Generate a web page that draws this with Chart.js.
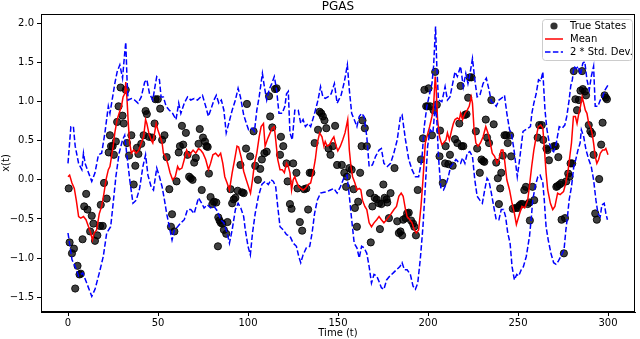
<!DOCTYPE html>
<html>
<head>
<meta charset="utf-8">
<script src="https://cdn.jsdelivr.net/npm/chart.js@4/dist/chart.umd.min.js"></script>
<style>
  html, body { margin: 0; padding: 0; background: #fff; }
  #c { display: block; }
</style>
</head>
<body>
<canvas id="c" width="640" height="339"></canvas>
<script>
// tick labels
const xTicks = [0, 50, 100, 150, 200, 250, 300];
const yTicks = [-1.5, -1.0, -0.5, 0.0, 0.5, 1.0, 1.5, 2.0];

// true states
const trueT = [0.4,0.9,2.2,3.3,4,5.3,6.4,7.1,8.1,9,10.1,10.8,12.3,13.2,14.1,15,16.3,17.8,18.2,19.3,20,21.5,22.6,23.3,23.9,24.8,25.5,26.6,27.3,28.1,29.2,30.3,31,32.1,32.8,33.9,35.2,36.5,37.4,38.3,39.1,40.7,42,43.1,43.8,44.9,46.8,48.1,48.6,49.9,51.2,52.3,53.6,54.8,56.3,57.2,57.8,59.1,60.3,61.5,62.2,63.3,64,65.5,66.4,67.3,68.2,69.2,70.1,71,72.5,73.2,74.3,75,76.1,76.9,77.6,78.3,79.2,80.2,81.1,82.4,83.3,83.5,84.2,84.9,85.7,86.6,87.9,88.6,90.3,91.2,92.1,93,94.3,95.8,96.7,97.6,98.9,99.4,101.2,103.1,104,105.5,106.8,107.7,109.1,110.4,111.7,112.3,113.5,115,115.9,117.8,118.3,119.6,121.4,122,123.3,124.2,125.1,126.9,127.5,128.8,130.1,131.2,132.4,133.4,134.3,135.2,137,138.9,139.8,140.7,141.6,142.5,143.5,144.7,145.8,147.1,148.4,149.5,152.1,153.5,154.5,155,156.3,157.6,158.7,159.4,160.5,161.2,162.3,163.1,163.6,164.9,166,167.8,168.2,169.1,170.4,171.5,172.8,173.3,174.1,175.2,175.9,177,177.4,178.3,179.2,181.4,182.9,183.8,184.7,185.6,186.2,187.5,188.4,189.3,190.6,191.7,192.4,193.3,194.3,196.1,197.2,198,199,199.8,200.3,201.2,202.2,203.1,204,204.9,206.4,206.7,208.2,209.5,209.8,211.3,212.2,213.7,215,216.3,217.4,218.1,218.7,219.6,220.5,221.4,222.3,223.2,224.2,226.6,227.3,228.8,229.7,230.6,231.3,232.1,232.8,233.9,235.2,236.5,237.9,238.8,239.4,240.1,240.7,241.6,242.5,243.4,244.3,245.6,246.2,247.1,248.6,249.9,250.8,251.7,252.6,253.5,254.4,255.4,256.3,256.6,258.1,259,260.9,261.8,263.2,264,265.8,266.4,267.2,270,270.9,271.3,271.9,272.4,273.1,274.2,274.2,275.5,276.1,276.8,277.9,278.6,279.2,280.1,281,281.9,282.8,283.8,284.7,285.6,286,287.1,287.8,289.3,290.2,291.1,292,292.9,293.8,295.1,296.2,297,298.1,298.8,299.4];
const trueX = [-0.11,-0.8,-0.94,-0.88,-1.39,-1.1,-1.21,-1.2,-0.76,-0.34,-0.18,-0.38,-0.66,-0.46,-0.56,-0.78,-0.71,-0.59,-0.32,-0.59,-0.04,-0.24,0.35,0.57,0.43,0.43,0.32,0.49,0.74,0.94,1.18,0.82,0.72,1.15,0.47,0.31,0.57,-0.06,0.18,0.41,0.33,0.46,0.57,0.88,0.84,0.55,0.54,0.72,1.03,1.03,0.91,0.51,0.57,0.29,-0.12,-0.6,-0.44,-0.66,-0.02,0.35,0.43,0.69,0.45,0.6,0.32,0.04,0.02,0,0.22,0.28,0.46,0.65,-0.13,0.54,0.49,0.43,0.42,0.08,-0.22,-0.31,-0.28,-0.29,-0.85,-0.48,-0.52,-0.55,-0.56,-0.64,-0.69,-0.54,-0.12,-0.3,-0.25,-0.23,-0.14,0.19,-0.16,-0.17,0.4,0.97,0.3,0.62,0.18,0,0.14,0.26,0.34,0.36,1.07,0.81,0.67,1.16,1.17,0.32,0.55,0.43,0.21,-0.02,-0.31,-0.37,0.21,0.09,-0.11,-0.54,-0.65,-0.12,-0.11,-0.38,0.09,0.09,0.47,0.64,0.87,0.85,0.81,0.76,0.66,0.4,0.32,0.43,0.69,0.19,0.19,0.09,-0.09,0.04,0.15,0.13,-0.12,-0.36,-0.6,-0.28,0.09,0.43,0.76,0.66,0.43,-0.17,-0.8,-0.34,-0.23,-0.25,-0.3,-0.63,-0.31,-0.06,-0.23,-0.25,-0.29,-0.49,-0.17,0.15,-0.53,-0.68,-0.66,-0.71,-0.51,-0.49,-0.43,-0.42,-0.52,-0.56,-0.6,-0.71,-0.13,0.26,0.53,1.15,0.94,0.94,1.17,0.94,0.57,0.89,1.38,0.96,0.3,0.63,-0.04,0.21,0.43,0.2,0.32,0.18,0.52,0.47,0.72,1.2,0.43,0.43,0.83,0.84,1.05,1.31,1.31,0.62,0.4,0.09,0.26,0.24,0.23,0.77,0.54,0.47,1.02,0.71,0.22,0.02,-0.31,-0.11,0.09,0.31,0.57,0.57,0.47,0.57,0.3,-0.37,-0.36,-0.36,-0.33,-0.31,-0.31,-0.13,-0.09,-0.31,-0.29,-0.52,-0.09,-0.26,0.54,0.7,0.7,0.51,0.4,0.38,0.25,0.43,0.43,-0.09,-0.08,0.29,-0.06,-0.04,-0.51,-0.94,-0.49,-0.02,0.08,0.04,0.21,0.21,1.39,1.03,0.89,1.02,1.14,1.39,1.16,1.13,1.08,0.7,0.62,0.59,0.32,-0.43,-0.51,0.01,0.45,0.73,1.08,1.05,1.03];

// posterior mean
const meanT = [0,0.9,2.2,3.5,4.6,5.9,7.1,8.6,10,11.4,12.6,13.6,14.5,15.9,17.4,18.7,20,21.1,22.4,23.3,24.2,25.1,26,27.3,28.4,29.7,30.6,31.5,32.1,32.8,33.6,34.3,35.2,36.5,37.9,39.4,40.7,42,43.1,43.8,44.9,46.2,47.1,48.1,49,49.9,51.2,52.3,53,54.1,55.4,56.7,58.1,59.6,60.9,61.8,63.3,64.6,65.9,67.3,68.2,69.5,71,72.5,73.7,75,76.5,78,79.2,80.5,82,83.5,84.8,86,87.1,88.4,89.7,91.2,92.6,93.9,94.8,96.3,97.6,98.9,100.3,101.4,102.5,103.6,104.9,106.2,107.3,108.6,109.5,111,112.3,113.5,114.6,115.4,116.5,117.8,119,120.2,121.4,122.4,123.3,124.2,125.1,126,126.9,128.2,129.3,130.6,131.9,133.4,134.8,136.1,137.4,138.5,139.8,141.1,142.2,142.9,144,145.3,146.6,147.7,149,149.9,151.3,152.6,153.9,155.4,156.3,157.2,158.1,159.4,160.5,161.8,162.7,163.6,164.9,166,167.3,168.6,170,171.5,172.8,174.1,175.5,177,178.3,179.6,181.1,182.5,183.8,185.1,186.2,187.5,188.4,189.9,191.1,192.4,193.5,194.8,196.1,197.2,198.5,199.4,200.9,202.2,203.1,204,204.5,205.3,206.4,207.7,208.6,210,210.8,211.9,213.2,214.1,215,216.3,217.4,218.1,219.2,220.5,221.8,222.9,224,224.7,225.5,226.6,227.8,229.1,230.6,232.1,233.3,234.6,235.7,237,238.3,239.4,240.7,241.6,242.5,243.8,245.3,246.7,248,249.1,250.9,252.2,253.7,255.4,256.3,257.6,258.8,260.1,261.3,262.6,263.8,264.6,265.6,266.5,268,269.3,270.5,272,273.4,275.3,276.6,277.9,279,279.7,280.8,281.9,282.8,283.8,284.7,285.6,286.5,287.4,288.3,289.3,290.2,291.1,292,292.9,293.8,294.8,295.7,297,298.1,298.8,300];
const meanX = [0.04,0.06,-0.04,-0.11,-0.26,-0.47,-0.49,-0.47,-0.51,-0.6,-0.68,-0.77,-0.68,-0.64,-0.43,-0.34,-0.17,0,0.13,0.17,0.3,0.43,0.6,0.77,0.85,0.94,1.06,1.1,1.25,1.02,0.68,0.47,0.34,0.38,0.34,0.38,0.47,0.55,0.77,0.72,0.6,0.51,0.47,0.6,0.72,0.64,0.55,0.47,0.34,0.3,0.21,0.09,0,0.04,0.17,0.13,0.15,0.26,0.38,0.3,0.34,0.38,0.34,0.4,0.38,0.34,0.26,0.13,0.21,0.32,0.34,0.3,0.34,0.21,0.04,-0.04,-0.13,0.09,0.26,0.43,0.42,0.28,0.11,0.01,-0.09,-0.17,0,0.21,0.34,0.55,0.68,0.72,0.43,0.53,0.6,0.66,0.68,0.51,0.26,0.13,0.13,0.09,0.21,0.17,0.09,-0.13,0,0.04,-0.02,-0.09,-0.11,-0.13,-0.11,-0.06,-0.04,0.09,0.26,0.47,0.6,0.55,0.43,0.49,0.43,0.45,0.51,0.55,0.43,0.37,0.43,0.51,0.6,0.77,0.38,0.17,0.04,-0.04,-0.13,-0.11,-0.13,-0.26,-0.34,-0.38,-0.55,-0.6,-0.55,-0.51,-0.47,-0.51,-0.55,-0.51,-0.47,-0.43,-0.38,-0.34,-0.21,-0.17,-0.21,-0.38,-0.47,-0.51,-0.55,-0.64,-0.68,-0.64,-0.34,0,0.47,0.55,0.68,0.81,0.94,1.32,1.19,0.77,0.55,0.45,0.47,0.51,0.6,0.51,0.64,0.72,0.77,0.79,0.77,0.85,0.77,0.85,0.89,0.94,1.06,0.98,0.68,0.47,0.43,0.47,0.55,0.68,0.6,0.47,0.34,0.3,0.21,0.26,0.38,0.38,0.26,0,-0.13,-0.3,-0.43,-0.57,-0.43,-0.34,-0.36,-0.26,-0.09,0.17,0.38,0.55,0.68,0.7,0.66,0.42,0.09,-0.13,-0.3,-0.38,-0.34,-0.17,-0.19,-0.15,-0.04,0.13,0.34,0.47,0.81,0.81,0.72,0.85,0.94,1.06,0.98,0.89,0.85,0.72,0.68,0.6,0.47,0.3,0.21,0.26,0.34,0.38,0.38,0.4,0.32];

// upper band (mean + 2 std)
const upperT = [0,1.6,3,4,5.9,7.7,8.6,9.5,11.4,13.2,15,16.9,18.7,20.5,22.4,23.3,24.8,26,27.3,28.8,30.3,31.5,32.1,32.8,33.4,35.2,37,38.9,40.7,42.6,43.8,45.3,47.1,48.6,49.3,50.8,51.7,53,54.5,56.3,58.1,60,61.5,62.7,64.6,66.4,68.2,70.1,71.9,74.7,76.5,78,79.2,81.1,82.4,83.8,85.2,86.6,87.9,89.3,91.2,93,94.5,95.8,97.6,99.4,100.3,102.2,103.6,104.9,106.2,108,109.1,110.4,111.7,113.2,114.6,115.9,117.2,119,120.5,121.4,122.4,123.3,124.6,126,127.9,129.3,130.6,131.9,133.4,134.8,137,138.9,140.3,141.6,142.9,144.4,146.2,148,149.5,151.7,153.5,155.2,156.3,157.6,159,160.5,161.8,163.1,164.5,166,167.3,169.1,170.9,172.8,174.1,175.5,177.4,179.2,181,182.9,184.7,185.6,187.5,189.3,191.1,193,194.8,196.6,197.9,199.4,200.9,202.2,203.1,204.2,204.9,205.8,207.7,209.5,210.8,212.2,213.7,215,216.3,218.1,219.6,221,222.2,223.2,224.7,226,227.3,228.8,230.6,232.4,233.9,235.2,236.5,237.9,239.4,240.7,242.5,243.8,245.3,246.3,247.8,249.6,250.9,252.8,254.1,256.9,257.7,258.8,260.1,261.4,262.6,263.8,265,266.1,267.4,268.7,269.8,271.1,272.9,274.5,276,277.1,278.4,279.3,280.2,281.1,282.3,283.5,284.7,286,287.1,288.3,289.6,290.7,292,292.9,294.4,295.7,297,298.4,300];
const upperX = [0.21,0.68,0.68,0.43,0.21,0.13,0.34,0.21,0.09,-0.02,0.09,0.32,0.34,0.6,0.94,0.85,1.06,1.23,1.38,1.47,1.3,1.62,1.76,1.28,1.02,1.04,1.02,0.98,1.06,1.25,1.28,1.1,1.02,1.23,1.32,1.28,1.06,1.06,0.94,0.89,0.85,0.77,0.98,0.85,0.98,1.06,1.02,1.04,1.02,1.08,0.94,0.81,0.89,1.02,1.08,0.98,1.02,0.89,0.6,0.72,0.89,1.02,1.17,1.06,0.83,0.7,0.64,0.66,0.62,0.89,1.06,1.36,1.19,1.02,1.15,1.23,1.32,1.15,0.85,0.85,0.94,1.1,1.13,0.6,0.51,0.89,0.89,0.72,0.77,0.68,0.72,0.68,0.85,1.02,1.19,1.06,1.04,1.06,1.1,1.23,0.98,1.08,1.25,1.47,1.15,0.85,0.77,0.68,0.81,0.85,0.81,0.55,0.17,0.19,0.3,0.38,0.4,0.21,0.17,0.21,0.34,0.51,0.81,0.83,0.51,0.26,0.13,0.04,0.04,0.26,0.68,0.94,1.1,1.23,1.45,1.96,1.45,1.02,1,1.19,1.02,1.06,1.23,1.38,1.32,1.45,1.19,1.36,1.23,1.34,1.55,1.28,1.06,1.08,1.23,1.3,1.15,1,0.98,0.94,1.02,1.04,1.08,0.85,0.64,0.6,0.38,0.04,0.26,0.62,0.64,0.68,0.85,0.98,1.1,1.28,1.26,1.38,0.89,0.64,0.47,0.38,0.36,0.45,0.68,0.66,0.7,0.81,1.02,1.2,1.28,1.45,1.42,1.45,1.34,1.49,1.51,1.28,1.15,1.32,1.45,0.94,0.94,1.02,1.06,1.15,1.21];

// lower band (mean - 2 std)
const lowerT = [0,2.2,4,5.9,8.2,10.4,13.2,15,17.4,19.6,21.5,23.7,25.1,26.6,28.4,30.3,31.5,32.8,34.3,36.1,37.9,39.8,41.6,43.1,44.4,46.2,47.5,49.3,50.8,52.3,53.6,54.8,56.3,57.8,59.1,60.9,62.7,64.6,66.4,68.2,70.1,72.5,74.3,75.6,77.4,79.2,81.1,83,84.8,86.6,88.4,89.7,91.2,93,94.5,96,97.6,98.5,100,101.3,102.5,104,105.8,107.7,109.5,111.3,112.8,114.1,115.4,116.5,117.8,119.6,121.4,123.3,125.1,126.9,128.2,129.3,130.6,132.4,134.3,135.6,137,138.5,140.3,142.2,144,145.8,147.7,149.5,151.3,153.2,155,156.3,157.6,159,160.5,161.8,163.1,164.5,166,167.3,168.6,170,171.5,172.8,174.1,175.5,177,178.8,180.7,182.5,184.4,185.6,186.9,188.4,190.2,191.7,193,194.3,195.7,197.2,198.5,199.8,201.2,202.7,204,204.9,205.8,207.1,208.6,210,211.3,212.6,214.1,215.5,216.8,218.1,219.2,220.5,221.8,223.2,224.7,226,227.3,228.8,230.2,231.5,232.8,233.9,235.2,236.5,237.9,239.4,240.7,242,243.1,244.3,245.6,246.7,248,249.3,250.4,251.8,253,254.6,256.4,257.3,258.2,259.5,261,262.3,263.8,264.6,265.6,266.8,268.3,269.8,271.1,272.4,273.8,275.6,276.6,277.5,278.4,279.7,281,282.1,283.3,284.5,285.2,286.5,287.8,289.3,290.7,292,293.3,294.4,295.7,296.6,297.9,298.8,299.7];
const lowerX = [-0.68,-1.02,-1.11,-1.23,-1.19,-1.32,-1.49,-1.4,-1.19,-0.98,-0.68,-0.6,-0.3,0.04,0.34,0.51,0.57,0.3,0,-0.3,-0.26,-0.11,0.17,0.32,0.06,-0.09,-0.13,0.15,0.04,-0.09,-0.26,-0.43,-0.6,-0.77,-0.64,-0.6,-0.55,-0.51,-0.38,-0.38,-0.43,-0.23,-0.3,-0.36,-0.32,-0.36,-0.34,-0.4,-0.51,-0.55,-0.68,-0.81,-0.64,-0.38,-0.3,-0.36,-0.47,-0.64,-0.85,-0.96,-0.68,-0.43,-0.21,-0.06,-0.02,-0.06,0,-0.02,-0.09,-0.34,-0.6,-0.64,-0.7,-0.72,-0.81,-0.85,-0.98,-1.06,-0.96,-0.87,-0.85,-0.68,-0.43,-0.26,-0.17,-0.16,-0.15,-0.13,-0.11,-0.17,-0.09,0.02,0.06,-0.21,-0.51,-0.81,-0.87,-1,-0.85,-0.87,-0.94,-1.11,-1.32,-1.21,-1.23,-1.3,-1.38,-1.4,-1.28,-1.23,-1.19,-1.15,-1.11,-1.06,-1.15,-1.15,-1.21,-1.36,-1.4,-1.32,-1.02,-0.6,-0.09,0.43,0.64,0.6,0.94,0.77,0.3,-0.1,-0.13,-0.06,0.04,0.17,0.21,0.26,0.23,0.21,0.28,0.21,0.34,0.36,0.3,0,-0.21,-0.26,-0.3,-0.13,0.02,-0.02,-0.17,-0.34,-0.51,-0.51,-0.38,-0.38,-0.47,-0.68,-0.81,-1.11,-1.28,-1.21,-1.23,-1.15,-1.11,-0.98,-0.72,-0.51,-0.26,-0.09,0.04,0.06,-0.04,-0.26,-0.6,-0.77,-0.94,-1.06,-1.08,-1.04,-0.98,-0.89,-0.64,-0.47,-0.26,-0.09,0.17,0.26,0.38,0.47,0.64,0.55,0.38,0.26,0.17,0,-0.26,-0.43,-0.47,-0.32,-0.3,-0.43,-0.51];

const pts = (ts, vs) => ts.map((t, i) => ({ x: t, y: vs[i] }));
const FONT = '"DejaVu Sans", sans-serif';

// frame, title and legend drawn like matplotlib
const framePlugin = {
  id: 'frame',
  afterDraw(chart) {
    const { ctx, chartArea: a } = chart;
    ctx.save();
    ctx.strokeStyle = '#000';
    ctx.lineWidth = 1;
    ctx.strokeRect(Math.round(a.left) + 0.5, Math.round(a.top) + 0.5,
      Math.round(a.right - a.left) - 1, Math.round(a.bottom - a.top) - 1);

    ctx.fillStyle = '#000';
    ctx.font = '12px ' + FONT;
    ctx.textAlign = 'center';
    ctx.textBaseline = 'middle';
    ctx.fillText('PGAS', (a.left + a.right) / 2, 7);

    // legend box
    const bx = a.right - 93, by = a.top + 5, bw = 90, bh = 41;
    ctx.beginPath();
    ctx.roundRect(bx + 0.5, by + 0.5, bw, bh, 3);
    ctx.fillStyle = 'rgba(255,255,255,0.8)';
    ctx.fill();
    ctx.strokeStyle = '#cccccc';
    ctx.stroke();

    const rows = [by + 7, by + 20, by + 33];
    ctx.fillStyle = 'rgba(0,0,0,0.8)';
    ctx.beginPath();
    ctx.arc(bx + 12, rows[0], 3.6, 0, Math.PI * 2);
    ctx.fill();

    ctx.lineWidth = 1.5;
    ctx.strokeStyle = '#ff0000';
    ctx.beginPath();
    ctx.moveTo(bx + 3, rows[1]); ctx.lineTo(bx + 21, rows[1]);
    ctx.stroke();

    ctx.strokeStyle = '#0000ff';
    ctx.setLineDash([5.5, 2.4]);
    ctx.beginPath();
    ctx.moveTo(bx + 3, rows[2]); ctx.lineTo(bx + 21, rows[2]);
    ctx.stroke();
    ctx.setLineDash([]);

    ctx.fillStyle = '#000';
    ctx.font = '10px ' + FONT;
    ctx.textAlign = 'left';
    ctx.fillText('True States', bx + 28, rows[0]);
    ctx.fillText('Mean', bx + 28, rows[1]);
    ctx.fillText('2 * Std. Dev.', bx + 28, rows[2]);
    ctx.restore();
  }
};

Chart.defaults.font.family = FONT;
Chart.defaults.font.size = 10;
Chart.defaults.color = '#000';

new Chart(document.getElementById('c'), {
  type: 'scatter',
  data: {
    datasets: [
      {
        label: 'True States',
        data: pts(trueT, trueX),
        showLine: false,
        pointRadius: 3.6,
        pointBackgroundColor: 'rgba(0,0,0,0.75)',
        pointBorderColor: 'rgba(0,0,0,0.85)',
        pointBorderWidth: 1,
        order: 3
      },
      {
        label: 'Mean',
        data: pts(meanT, meanX),
        showLine: true,
        borderColor: '#ff0000',
        borderWidth: 1.5,
        pointRadius: 0,
        tension: 0,
        order: 2
      },
      {
        label: '2 * Std. Dev.',
        data: pts(upperT, upperX),
        showLine: true,
        borderColor: '#0000ff',
        borderWidth: 1.5,
        borderDash: [5.5, 2.4],
        pointRadius: 0,
        order: 1
      },
      {
        label: 'lower',
        data: pts(lowerT, lowerX),
        showLine: true,
        borderColor: '#0000ff',
        borderWidth: 1.5,
        borderDash: [5.5, 2.4],
        pointRadius: 0,
        order: 1
      }
    ]
  },
  options: {
    responsive: false,
    animation: false,
    devicePixelRatio: 1,
    layout: { padding: { top: 14, right: 1, left: 0, bottom: 0 } },
    plugins: {
      legend: { display: false },
      tooltip: { enabled: false },
      title: { display: false }
    },
    scales: {
      x: {
        type: 'linear',
        min: -15,
        max: 315,
        afterBuildTicks: s => { s.ticks = xTicks.map(v => ({ value: v })); },
        afterFit: s => { s.height = 27; },
        ticks: { padding: 1, maxRotation: 0, color: '#000' },
        grid: { display: true, drawOnChartArea: false, drawTicks: true, tickLength: 4, color: '#000' },
        border: { display: true, color: '#000' },
        title: { display: true, text: 'Time (t)', padding: 0, color: '#000' }
      },
      y: {
        type: 'linear',
        min: -1.69,
        max: 2.12,
        afterBuildTicks: s => { s.ticks = yTicks.map(v => ({ value: v })); },
        afterFit: s => { s.width = 41; },
        ticks: {
          padding: 3,
          color: '#000',
          callback: v => (v < 0 ? '\u2212' : '') + Math.abs(v).toFixed(1)
        },
        grid: { display: true, drawOnChartArea: false, drawTicks: true, tickLength: 4, color: '#000' },
        border: { display: true, color: '#000' },
        title: { display: true, text: 'x(t)', padding: 0, color: '#000' }
      }
    }
  },
  plugins: [framePlugin]
});
</script>
</body>
</html>
